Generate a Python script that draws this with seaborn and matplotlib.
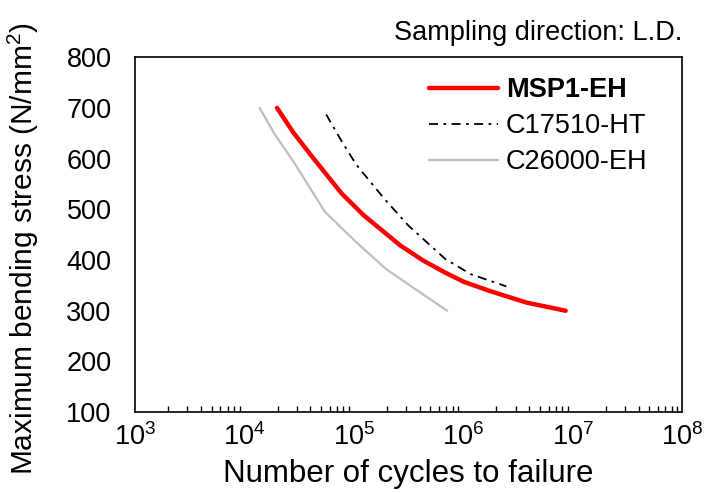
import matplotlib
matplotlib.use("Agg")
import matplotlib.pyplot as plt
import matplotlib.ticker as mticker
import numpy as np
import seaborn as sns

# S-N curves (cycles, stress N/mm2)
msp1_cycles = [1.98e4, 2.8e4, 4.14e4, 7.73e4, 1.23e5, 2.68e5, 4.29e5, 6.84e5, 1.01e6, 1.74e6, 3.79e6, 8.6e6]
msp1_stress = [700, 651, 604, 531, 488, 428, 399, 375, 357, 339, 316, 300]

c17510_cycles = [5.57e4, 7.73e4, 1.05e5, 1.89e5, 3.14e5, 6.84e5, 1.17e6, 2.47e6]
c17510_stress = [687, 634, 588, 521, 468, 402, 372, 348]

c26000_cycles = [1.37e4, 1.9e4, 2.8e4, 5.43e4, 1.05e5, 1.97e5, 3.67e5, 7.1e5]
c26000_stress = [700, 647, 594, 495, 435, 382, 342, 300]

x_ticks = [1e3, 1e4, 1e5, 1e6, 1e7, 1e8]
y_ticks = [100, 200, 300, 400, 500, 600, 700, 800]

sns.set_style("white")
plt.rcParams["font.family"] = ["Liberation Sans", "DejaVu Sans"]
plt.rcParams["mathtext.default"] = "regular"
plt.rcParams["text.color"] = "black"
plt.rcParams["axes.labelcolor"] = "black"
plt.rcParams["xtick.color"] = "black"
plt.rcParams["ytick.color"] = "black"

fig = plt.figure(figsize=(7.04, 4.93), dpi=100)
ax = fig.add_axes([0.192, 0.164, 0.777, 0.720])

sns.lineplot(x=c26000_cycles, y=c26000_stress, ax=ax, color="#bfbfbf", lw=1.6,
             sort=False, estimator=None, label="C26000-EH")
sns.lineplot(x=c17510_cycles, y=c17510_stress, ax=ax, color="black", lw=1.3,
             sort=False, estimator=None, label="C17510-HT")
ax.lines[-1].set_linestyle((0, (5, 3, 1.5, 3)))
sns.lineplot(x=msp1_cycles, y=msp1_stress, ax=ax, color="#ff0000", lw=3.2,
             sort=False, estimator=None, label="MSP1-EH")
ax.lines[-1].set_solid_capstyle("round")
ax.lines[-1].set_solid_joinstyle("round")

ax.set_xscale("log")
ax.set_xlim(1e3, 1e8)
ax.set_ylim(100, 800)
ax.set_xticks(x_ticks)
ax.set_xticklabels([f"10$^{{{int(np.log10(v))}}}$" for v in x_ticks])
ax.xaxis.set_minor_locator(mticker.LogLocator(base=10, subs=np.arange(2, 10)))
ax.xaxis.set_minor_formatter(mticker.NullFormatter())
ax.set_yticks(y_ticks)

ax.tick_params(axis="both", which="major", direction="in", labelsize=19.5,
               length=6, width=1, color="black")
ax.tick_params(axis="y", which="major", pad=17)
ax.tick_params(axis="x", which="major", pad=8)
ax.tick_params(axis="x", which="minor", direction="in", length=4.5, width=1,
               color="black", bottom=True)
ax.tick_params(top=False, right=False)
for sp in ax.spines.values():
    sp.set_edgecolor("black")
    sp.set_linewidth(1.2)

ax.set_xlabel("Number of cycles to failure", fontsize=22.5, labelpad=6)
ax.set_ylabel("Maximum bending stress (N/mm$^2$)", fontsize=21.5)
ax.yaxis.set_label_coords(-0.172, 0.462)

handles, labels = ax.get_legend_handles_labels()
order = [labels.index(n) for n in ["MSP1-EH", "C17510-HT", "C26000-EH"]]
leg = ax.legend([handles[i] for i in order], [labels[i] for i in order],
                loc="upper right", bbox_to_anchor=(0.937, 0.943), frameon=False,
                fontsize=19.5, handlelength=2.55, handletextpad=0.3,
                borderaxespad=0, borderpad=0, labelspacing=0.37)
leg.get_texts()[0].set_fontweight("bold")

fig.text(0.969, 0.933, "Sampling direction: L.D.", ha="right", va="center", fontsize=19.5)

fig.savefig("out.png", dpi=100, facecolor="white")
